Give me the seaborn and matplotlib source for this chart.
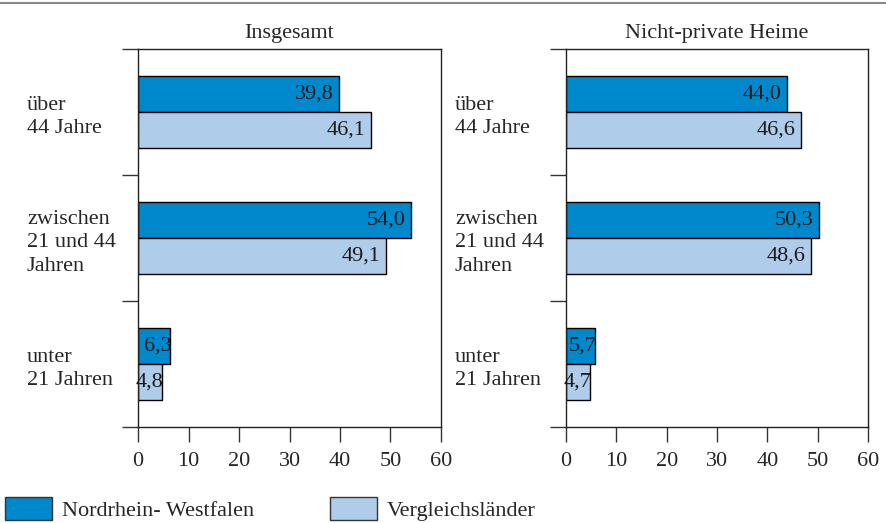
import matplotlib
matplotlib.use("Agg")
import matplotlib.pyplot as plt
import matplotlib.lines as mlines
import matplotlib.patches as mpatches
import seaborn as sns
import pandas as pd

# data
kategorien = ["über\n44 Jahre", "zwischen\n21 und 44\nJahren", "unter\n21 Jahren"]
regionen = ["Nordrhein- Westfalen", "Vergleichsländer"]
nrw_insgesamt = [39.8, 54.0, 6.3]
vgl_insgesamt = [46.1, 49.1, 4.8]
nrw_nichtprivat = [44.0, 50.3, 5.7]
vgl_nichtprivat = [46.6, 48.6, 4.7]
titel = ["Insgesamt", "Nicht-private Heime"]
xticks = [0, 10, 20, 30, 40, 50, 60]

farben = ["#0088CC", "#AFCDEB"]
FS = 16

sns.set_style("white")
plt.rcParams['font.family'] = ['Liberation Serif', 'DejaVu Serif']
plt.rcParams['font.size'] = FS


def make_df(nrw, vgl):
    rows = []
    for k, a, b in zip(kategorien, nrw, vgl):
        rows.append({"Kategorie": k, "Region": regionen[0], "Wert": a})
        rows.append({"Kategorie": k, "Region": regionen[1], "Wert": b})
    return pd.DataFrame(rows)


fig = plt.figure(figsize=(8.87, 5.23), dpi=100)
W, H = 887, 523
ax1 = fig.add_axes([138 / W, (H - 427) / H, 303 / W, 378 / H])
ax2 = fig.add_axes([566 / W, (H - 427) / H, 302 / W, 378 / H])

daten = [(nrw_insgesamt, vgl_insgesamt), (nrw_nichtprivat, vgl_nichtprivat)]

for ax, (nrw, vgl), t in zip([ax1, ax2], daten, titel):
    df = make_df(nrw, vgl)
    sns.barplot(data=df, x="Wert", y="Kategorie", hue="Region", orient="h",
                palette=farben, saturation=1, width=0.57, edgecolor="black",
                linewidth=1, legend=False, ax=ax)
    ax.set_xlim(0, 60)
    ax.set_ylim(2.5, -0.5)
    ax.set_xticks(xticks)
    ax.set_xticklabels([str(x) for x in xticks])
    ax.set_xlabel("")
    ax.set_ylabel("")
    ax.set_title(t, fontsize=FS, pad=8)

    # y labels left aligned, separator ticks between groups
    ax.tick_params(axis="y", which="major", length=0, pad=80)
    for lab in ax.get_yticklabels():
        lab.set_horizontalalignment("left")
        lab.set_linespacing(1.35)
    ax.set_yticks([-0.5, 0.5, 1.5, 2.5], minor=True)
    ax.tick_params(axis="y", which="minor", left=True, length=11.5, width=1,
                   color="#333333", direction="out")
    ax.tick_params(axis="x", bottom=True, length=11, width=1, color="#333333",
                   direction="out", pad=7)
    for s in ax.spines.values():
        s.set_visible(True)
        s.set_color("#222222")
        s.set_linewidth(1)

    # value labels
    for cont, werte in zip(ax.containers, [nrw, vgl]):
        for bar, v in zip(cont, werte):
            x = v + 0.3 if v < 10 else v - 1.1
            ax.text(x, bar.get_y() + bar.get_height() / 2,
                    f"{v:.1f}".replace(".", ","), ha="right", va="center",
                    fontsize=FS, color="#1a1a1a")

# gray rule on top
fig.add_artist(mlines.Line2D([0, 1], [1 - 3 / H, 1 - 3 / H], color="#888888",
                             lw=1.5, transform=fig.transFigure))

handles = [mpatches.Patch(facecolor=c, edgecolor="#333333", linewidth=1) for c in farben]
fig.legend(handles, regionen, loc="lower left", bbox_to_anchor=(5 / W, 2 / H),
           ncol=2, frameon=False, fontsize=FS, handlelength=2.1, handleheight=1.2,
           handletextpad=0.45, columnspacing=3.45, borderpad=0, borderaxespad=0)

fig.savefig("out.png", dpi=100)
